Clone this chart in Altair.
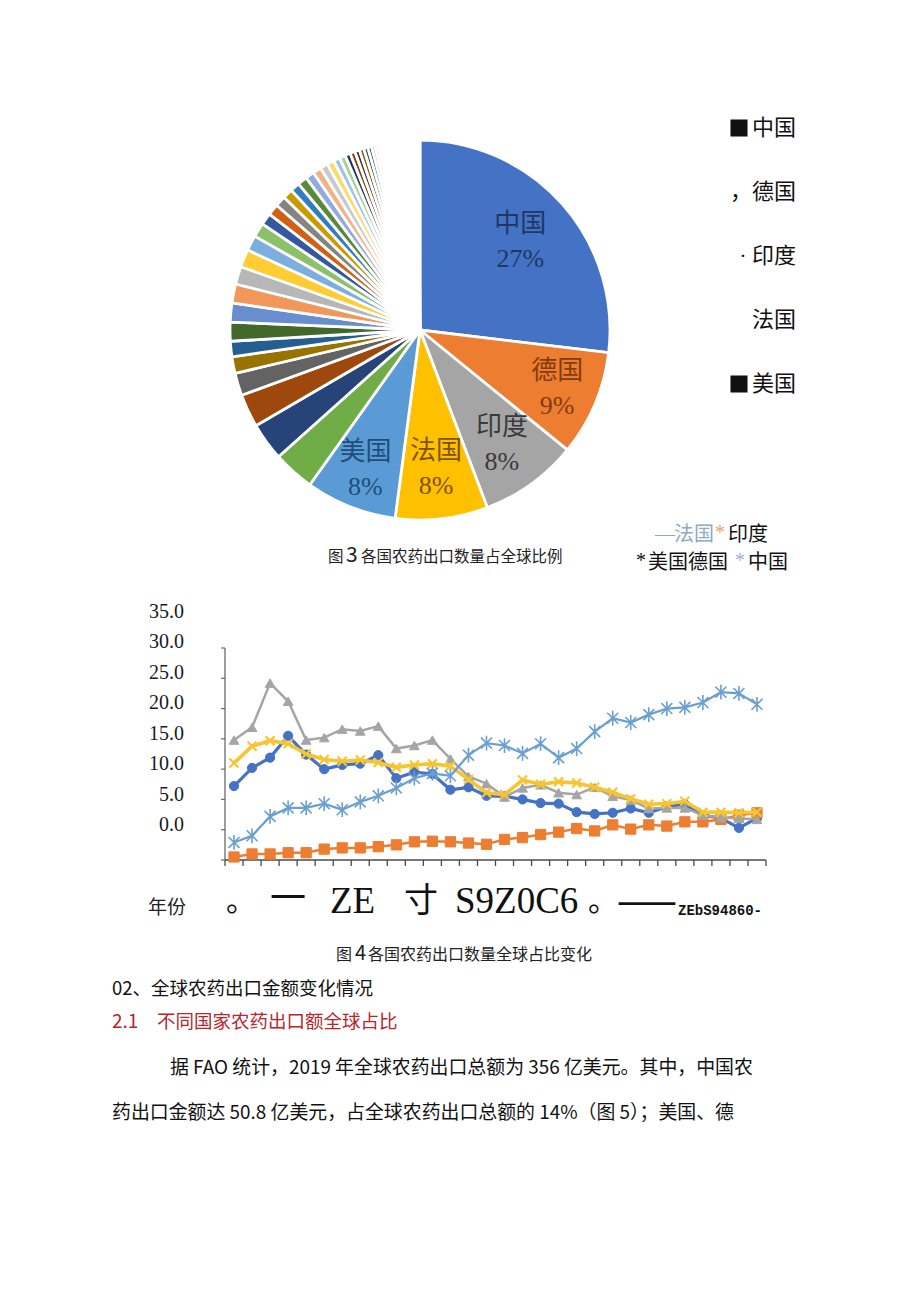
import altair as alt
import pandas as pd

# ---------------- Pie (figure 3) ----------------
PIE_VALUES = [26.7, 8.9, 8.3, 7.8, 7.7,
              3.5, 3.2, 2.8, 1.9, 1.4, 1.3, 1.6,
              1.6, 1.6, 1.5, 1.5, 1.3, 1.2,
              1.0, 0.95, 0.9, 0.85, 0.8, 0.8,
              0.75, 0.7, 0.65, 0.6, 0.55, 0.5,
              0.45, 0.42, 0.4, 0.38, 0.35, 0.32,
              0.3, 0.28, 0.26, 0.24, 0.22, 0.2, 0.2, 0.18, 0.18, 0.16, 0.16,
              0.15, 0.15, 0.14, 0.14, 0.13, 0.13, 0.12, 0.12, 0.11, 0.11,
              0.1, 0.1, 0.1, 0.1]
PIE_PALETTE = ["#4472C4", "#ED7D31", "#A5A5A5", "#FFC000", "#5B9BD5", "#70AD47",
               "#264478", "#9E480E", "#636363", "#997300", "#255E91", "#43682B",
               "#698ED0", "#F1975A", "#B7B7B7", "#FFCD33", "#7CAFDD", "#8CC168",
               "#335AA1", "#D26012", "#848484", "#CC9A00", "#327DC2", "#5A8A39",
               "#8FAADC", "#F4B183", "#C9C9C9", "#FFD966", "#9DC3E6", "#A9D18E",
               "#203864", "#843C0C", "#3B3B3B", "#7F6000", "#1F4E79", "#375623",
               "#B4C7E7", "#F8CBAD", "#DBDBDB", "#FFE699", "#BDD7EE", "#C5E0B4"]
PIE_LABELS = ["中国\n27%", "德国\n9%", "印度\n8%", "法国\n8%", "美国\n8%"]
PIE_LABEL_COLORS = ["#1F3864", "#843C0C", "#3A3A3A", "#7F5200", "#1F4E79"]
PIE_LABEL_RADIUS = [134, 149, 140, 139, 149]

# ---------------- Lines (figure 4) ----------------
YEARS = [1990, 1991, 1992, 1993, 1994, 1995, 1996, 1997, 1998, 1999,
         2000, 2001, 2002, 2003, 2004, 2005, 2006, 2007, 2008, 2009,
         2010, 2011, 2012, 2013, 2014, 2015, 2016, 2017, 2018, 2019]
FRANCE = [12.2, 15.2, 16.9, 20.5, 17.4, 15.0, 15.7, 15.9, 17.3, 13.5,
          14.5, 14.2, 11.6, 12.0, 10.6, 10.5, 10.0, 9.4, 9.3, 7.9,
          7.6, 7.8, 8.5, 7.8, 8.8, 9.2, 7.4, 6.9, 5.3, 6.9]
INDIA = [0.5, 1.0, 1.0, 1.2, 1.2, 1.8, 2.0, 2.0, 2.2, 2.5,
         3.0, 3.1, 3.0, 2.8, 2.6, 3.4, 3.7, 4.2, 4.6, 5.2,
         4.8, 5.8, 5.1, 5.8, 5.6, 6.3, 6.3, 6.7, 7.4, 7.8]
USA = [19.8, 21.9, 29.2, 26.2, 19.8, 20.2, 21.6, 21.3, 22.1, 18.4,
       18.9, 19.8, 16.7, 13.8, 12.6, 10.4, 11.9, 12.4, 11.1, 10.8,
       12.0, 10.5, 9.9, 8.5, 8.6, 8.6, 7.4, 7.0, 6.9, 6.7]
GERMANY = [16.0, 18.8, 19.7, 19.2, 17.5, 16.6, 16.3, 16.5, 16.1, 15.3,
           15.7, 15.9, 15.5, 13.3, 11.1, 10.8, 13.2, 12.5, 12.9, 12.7,
           12.0, 11.2, 10.1, 9.2, 9.3, 9.7, 7.9, 7.9, 7.8, 7.9]
CHINA = [2.9, 4.0, 7.2, 8.6, 8.6, 9.3, 8.3, 9.6, 10.6, 11.9,
         13.5, 14.3, 13.9, 17.3, 19.3, 18.9, 17.6, 19.2, 16.9, 18.4,
         21.2, 23.4, 22.7, 24.0, 25.0, 25.2, 26.0, 27.7, 27.5, 25.7]
Y_TICK_LABELS = ["35.0", "30.0", "25.0", "20.0", "15.0", "10.0", "5.0", "0.0"]
Y_TICK_VALUES = [35, 30, 25, 20, 15, 10, 5, 0]

CJK = "Noto Sans CJK SC"
SERIF = "Liberation Serif, Noto Sans CJK SC"

layers = []

# ---- pie ----
n = len(PIE_VALUES)
pie_df = pd.DataFrame({
    "k": list(range(n)),
    "v": PIE_VALUES,
    "c": [PIE_PALETTE[i % len(PIE_PALETTE)] for i in range(n)],
})
for i, lab in enumerate(PIE_LABELS):
    pie_df["lab%d" % i] = [lab if k == i else "" for k in range(n)]

arc = alt.Chart(pie_df).mark_arc(radius=190, stroke="white", strokeWidth=2.8).encode(
    theta=alt.Theta("v:Q", stack=True),
    order=alt.Order("k:Q"),
    color=alt.Color("c:N", scale=None),
    x=alt.value(420), y=alt.value(330),
)
layers.append(arc)
for i in range(len(PIE_LABELS)):
    layers.append(alt.Chart(pie_df).mark_text(
        radius=PIE_LABEL_RADIUS[i], font=SERIF, fontSize=26, dy=-17,
        lineBreak="\n", lineHeight=35, baseline="middle", align="center",
        color=PIE_LABEL_COLORS[i]).encode(
        theta=alt.Theta("v:Q", stack=True),
        order=alt.Order("k:Q"),
        text="lab%d:N" % i,
        x=alt.value(420), y=alt.value(330),
    ))

# ---- line chart ----
XS = alt.Scale(domain=[1989.5, 2019.5], range=[225, 766], nice=False, zero=False)
YS = alt.Scale(domain=[0, 35], range=[860, 648], nice=False, zero=False)

df = pd.DataFrame({"year": YEARS, "FR": FRANCE, "IN": INDIA, "US": USA,
                   "DE": GERMANY, "CN": CHINA})

# axes (rules)
ax_df = pd.DataFrame({"a": [0], "b": [35], "xa": [1989.5], "xb": [2019.5]})
layers.append(alt.Chart(ax_df).mark_rule(color="#6b6b6b", strokeWidth=1.3).encode(
    x=alt.value(225), y=alt.Y("a:Q", scale=YS, axis=None), y2="b:Q"))
layers.append(alt.Chart(ax_df).mark_rule(color="#4a4a4a", strokeWidth=1.5).encode(
    y=alt.value(860), x=alt.X("xa:Q", scale=XS, axis=None), x2="xb:Q"))
xt_df = pd.DataFrame({"t": [y - 0.5 for y in YEARS] + [YEARS[-1] + 0.5]})
layers.append(alt.Chart(xt_df).mark_rule(color="#4a4a4a", strokeWidth=1.3).encode(
    x=alt.X("t:Q", scale=XS, axis=None), y=alt.value(860), y2=alt.value(866)))
yt_df = pd.DataFrame({"t": Y_TICK_VALUES})
layers.append(alt.Chart(yt_df).mark_rule(color="#6b6b6b", strokeWidth=1.2).encode(
    y=alt.Y("t:Q", scale=YS, axis=None), x=alt.value(221), x2=alt.value(225)))

XSTAR = "M-1,-1L1,1M-1,1L1,-1"
ASTER = "M-1,-1L1,1M-1,1L1,-1M0,-1.35L0,1.35"
series = [
    ("FR", "#4472C4", 3.2, "circle", 85, True, 1),
    ("IN", "#ED7D31", 2.5, "square", 105, True, 1),
    ("US", "#A5A5A5", 2.5, "triangle-up", 95, True, 1),
    ("DE", "#F7C531", 3.6, XSTAR, 80, False, 2.2),
    ("CN", "#6A9FCF", 2.2, ASTER, 120, False, 1.6),
]
for f, col, w, shape, size, filled, sw in series:
    base = alt.Chart(df).encode(
        x=alt.X("year:Q", scale=XS, axis=None),
        y=alt.Y(f + ":Q", scale=YS, axis=None),
    )
    layers.append(base.mark_line(color=col, strokeWidth=w))
    if filled:
        layers.append(base.mark_point(shape=shape, size=size, filled=True,
                                      fill=col, stroke=col, strokeWidth=sw, opacity=1))
    else:
        layers.append(base.mark_point(shape=shape, size=size, filled=False,
                                      stroke=col, strokeWidth=sw, opacity=1))

# y tick labels (drawn as in the picture, offset column)
yl_df = pd.DataFrame({"v": Y_TICK_VALUES, "s": Y_TICK_LABELS})
layers.append(alt.Chart(yl_df).mark_text(align="right", baseline="middle",
                                         font="Liberation Serif", fontSize=20,
                                         color="#1a1a1a").encode(
    x=alt.value(184),
    y=alt.Y("v:Q", scale=alt.Scale(domain=[0, 35], range=[825, 612], nice=False, zero=False), axis=None),
    text="s:N"))

# legend squares of the pie legend
sq_df = pd.DataFrame({"t": ["中国", "美国"], "y": [128, 384]})
layers.append(alt.Chart(sq_df).mark_square(size=290, color="#111111", opacity=1).encode(
    x=alt.value(739), y=alt.Y("y:Q", scale=None)))

# ---- text annotations ----
ANNOT = [
    # text, x, y, size, color, font, align, weight
    ("中国", 796, 128, 22, "#111111", SERIF, "right", "normal"),
    ("，德国", 796, 192, 22, "#111111", SERIF, "right", "normal"),
    ("· 印度", 796, 256, 22, "#111111", SERIF, "right", "normal"),
    ("法国", 796, 320, 22, "#111111", SERIF, "right", "normal"),
    ("美国", 796, 384, 22, "#111111", SERIF, "right", "normal"),
    ("图", 328, 557, 15.5, "#222222", CJK, "left", "normal"),
    ("3", 346, 556, 21, "#222222", CJK, "left", "normal"),
    ("各国农药出口数量占全球比例", 361, 557, 15.5, "#222222", CJK, "left", "normal"),
    ("—", 655, 535, 20, "#8EA9C4", SERIF, "left", "normal"),
    ("法国", 674, 535, 20, "#8EA9C4", SERIF, "left", "normal"),
    ("*", 715, 533, 20, "#F0A060", SERIF, "left", "normal"),
    ("印度", 728, 535, 20, "#111111", SERIF, "left", "normal"),
    ("*", 636, 561, 20, "#111111", SERIF, "left", "normal"),
    ("美国德国", 648, 563, 20, "#111111", SERIF, "left", "normal"),
    ("*", 735, 561, 20, "#9DB3C8", SERIF, "left", "normal"),
    ("中国", 748, 563, 20, "#111111", SERIF, "left", "normal"),
    ("年份", 148, 908, 19, "#222222", SERIF, "left", "normal"),
    ("。", 226, 902, 30, "#111111", CJK, "left", "normal"),
    ("一", 270, 900, 36, "#111111", CJK, "left", "normal"),
    ("ZE", 330, 902, 37, "#111111", "Liberation Serif", "left", "normal"),
    ("寸", 404, 902, 34, "#111111", CJK, "left", "normal"),
    ("S9Z0C6", 455, 902, 37, "#111111", "Liberation Serif", "left", "normal"),
    ("。", 588, 902, 30, "#111111", CJK, "left", "normal"),
    ("—", 619, 900, 56, "#111111", "Liberation Serif", "left", "normal"),
    ("ZEbS94860-", 678, 911, 14, "#111111", "Liberation Mono", "left", "bold"),
    ("图", 336, 955, 16, "#222222", CJK, "left", "normal"),
    ("4", 355, 954, 20, "#222222", CJK, "left", "normal"),
    ("各国农药出口数量全球占比变化", 368, 955, 16, "#222222", CJK, "left", "normal"),
    ("02、全球农药出口金额变化情况", 112, 989, 18.5, "#111111", CJK, "left", "normal"),
    ("2.1", 112, 1022, 19, "#B8262B", CJK, "left", "normal"),
    ("不同国家农药出口额全球占比", 157, 1022, 18.5, "#B8262B", CJK, "left", "normal"),
    ("据 FAO 统计，2019 年全球农药出口总额为 356 亿美元。其中，中国农", 170, 1068, 18.9, "#111111", CJK, "left", "normal"),
    ("药出口金额达 50.8 亿美元，占全球农药出口总额的 14%（图 5）；美国、德", 112, 1113, 18.9, "#111111", CJK, "left", "normal"),
]
for t, x, y, s, c, fnt, al, wt in ANNOT:
    layers.append(alt.Chart(pd.DataFrame({"t": [t]})).mark_text(
        align=al, baseline="middle", fontSize=s, color=c, font=fnt, fontWeight=wt
    ).encode(x=alt.value(x), y=alt.value(y), text="t:N"))

chart = alt.layer(*layers).resolve_scale(y="independent", x="independent").properties(
    width=920, height=1301, autosize=alt.AutoSizeParams(type="none"), padding=0,
    background="white",
).configure_view(stroke=None)

chart.save("out.html", embed_options={"renderer": "svg", "actions": False})
